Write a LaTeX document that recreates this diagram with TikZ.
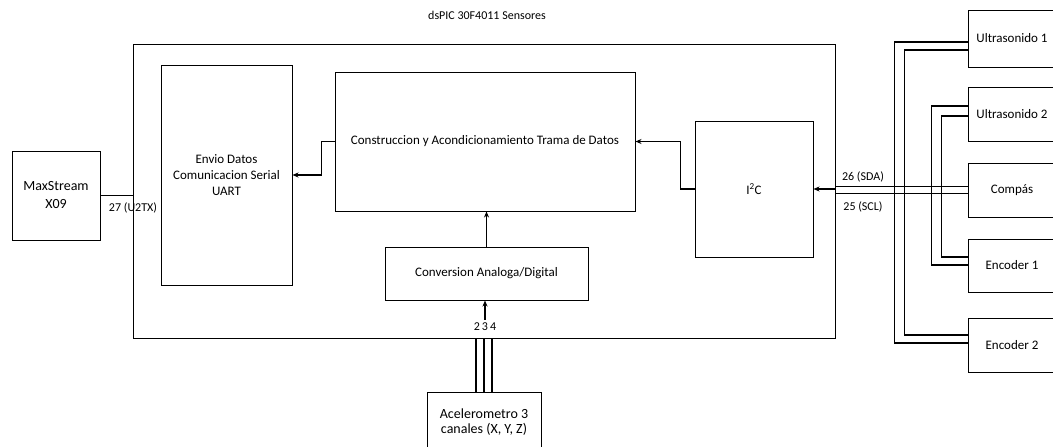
\documentclass[tikz,border=0pt]{standalone}
\usepackage{fontspec}
\setmainfont{Carlito}
\usetikzlibrary{arrows.meta}

\begin{document}
\begin{tikzpicture}[x=1pt, y=-1pt,
  blockbox/.style={draw, line width=1pt, align=center, inner sep=2pt,
    font=\fontsize{13}{16}\selectfont},
  pinlbl/.style={font=\fontsize{12}{14}\selectfont},
  wire/.style={line width=1.2pt},
  sig/.style={line width=1.2pt, -{Stealth[length=6pt,width=5pt]}}]
  \useasboundingbox (0,0) rectangle (1053,447);
  \clip (0,0) rectangle (1053,447);
  % dsPIC board
  \node[draw, line width=1pt, minimum width=702pt, minimum height=294pt] (dspic) at (484,191) {};
  \node[font=\fontsize{12}{14}\selectfont] (title) at (487,15) {dsPIC 30F4011 Sensores};
  % Blocks inside the dsPIC
  \node[blockbox, minimum width=131pt, minimum height=220pt] (envio) at (226.5,175)
    {Envio Datos\\Comunicacion Serial\\UART};
  \node[blockbox, minimum width=300pt, minimum height=139pt] (trama) at (485,141.5)
    {Construccion y Acondicionamiento Trama de Datos};
  \node[blockbox, minimum width=203pt, minimum height=53pt] (adc) at (486.5,273.5)
    {Conversion Analoga/Digital};
  \node[blockbox, minimum width=118pt, minimum height=136pt] (iic) at (754,189)
    {I\textsuperscript{2}C};
  % Radio module
  \node[blockbox, font=\fontsize{14}{18}\selectfont, minimum width=88pt, minimum height=89pt]
    (maxs) at (56,195.5) {MaxStream\\X09};
  % Accelerometer
  \node[blockbox, font=\fontsize{14}{15}\selectfont, minimum width=114pt, minimum height=60pt]
    (acel) at (484,422) {Acelerometro 3\\canales (X, Y, Z)};
  % Sensors on the I2C bus
  \node[blockbox, minimum width=88pt, minimum height=57pt] (us1) at (1012,38.5) {Ultrasonido 1};
  \node[blockbox, minimum width=88pt, minimum height=54pt] (us2) at (1012,114) {Ultrasonido 2};
  \node[blockbox, minimum width=88pt, minimum height=54pt] (comp) at (1012,190) {Compás};
  \node[blockbox, minimum width=88pt, minimum height=53pt] (enc1) at (1012,265.5) {Encoder 1};
  \node[blockbox, minimum width=88pt, minimum height=54pt] (enc2) at (1012,345) {Encoder 2};

  % UART to radio
  \draw[wire] (maxs.east) -- (maxs.east -| dspic.west);
  \node[pinlbl] (u2tx) at (133,208) {27 (U2TX)};
  % Internal data flow
  \draw[sig] (trama.west) -- ++(-13,0) |- (envio.east);
  \draw[sig] (adc.north) -- (adc.north |- trama.south);
  \draw[sig] (iic.west) -- ++(-14,0) |- (trama.east);
  % Analog channels
  \node[pinlbl] (chan) at (485,327) {2\,3\,4};
  \draw[sig] (chan.north) -- (chan.north |- adc.south);
  \foreach \dx in {-8,0,8}
    \draw[wire] ([xshift=\dx pt]acel.north) -- ([xshift=\dx pt]acel.north |- dspic.south);
  % I2C bus
  \draw[sig] (iic.east -| dspic.east) -- (iic.east);
  \draw[wire] ([yshift=3.5pt]comp.west) -- ([yshift=3.5pt]comp.west -| dspic.east);
  \draw[wire] ([yshift=-3.5pt]comp.west) -- ([yshift=-3.5pt]comp.west -| dspic.east);
  \node[pinlbl] (sda) at (863,177) {26 (SDA)};
  \node[pinlbl] (scl) at (863,207) {25 (SCL)};
  % Sensor wiring
  \draw[wire] ([yshift=-3.5pt]us1.west) -- ++(-73,0) |- ([yshift=2pt]enc2.west);
  \draw[wire] ([yshift=-11.5pt]us1.west) -- ++(-63,0) |- ([yshift=10pt]enc2.west);
  \draw[wire] ([yshift=8pt]us2.west) -- ++(-36,0) |- ([yshift=0.5pt]enc1.west);
  \draw[wire] ([yshift=-2pt]us2.west) -- ++(-26,0) |- ([yshift=8.5pt]enc1.west);
\end{tikzpicture}
\end{document}
